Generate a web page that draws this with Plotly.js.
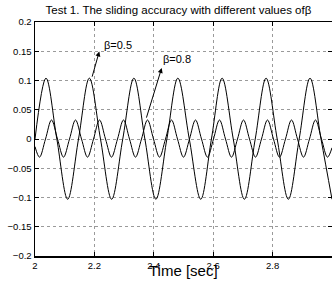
<!DOCTYPE html>
<html>
<head>
<meta charset="utf-8">
<script src="https://cdn.plot.ly/plotly-3.0.1.min.js"></script>
<style>html,body{margin:0;padding:0;background:#fff;}#chart{width:332px;height:286px;}</style>
</head>
<body>
<div id="chart"></div>
<script>
// β = 0.5 : peaks, zero crossings and troughs
var timeB05 = [2.000, 2.037, 2.0735, 2.110, 2.1465, 2.183, 2.2205, 2.258, 2.2955, 2.333, 2.370, 2.407, 2.444, 2.481, 2.5195, 2.558, 2.594, 2.630, 2.6675, 2.705, 2.7415, 2.778, 2.8155, 2.853, 2.8895, 2.926, 2.963, 3.000];
var valB05  = [0.000, 0.104, 0.000, -0.103, 0.000, 0.104, 0.000, -0.103, 0.000, 0.104, 0.000, -0.103, 0.000, 0.104, 0.000, -0.103, 0.000, 0.104, 0.000, -0.103, 0.000, 0.104, 0.000, -0.103, 0.000, 0.104, 0.000, -0.103];

// β = 0.8
var timeB08 = [2.000, 2.0152, 2.0354, 2.0556, 2.0758, 2.0960, 2.1162, 2.1364, 2.1566, 2.1768, 2.1970, 2.2172, 2.2374, 2.2576, 2.2778, 2.2980, 2.3182, 2.3384, 2.3586, 2.3788, 2.3990, 2.4192, 2.4394, 2.4596, 2.4798, 2.5000, 2.5202, 2.5404, 2.5606, 2.5808, 2.6010, 2.6212, 2.6414, 2.6616, 2.6818, 2.7020, 2.7222, 2.7424, 2.7626, 2.7828, 2.8030, 2.8232, 2.8434, 2.8636, 2.8838, 2.9040, 2.9242, 2.9444, 2.9646, 2.9848, 3.000];
var valB08  = [-0.013, -0.031, 0, 0.0325, 0, -0.031, 0, 0.0325, 0, -0.031, 0, 0.0325, 0, -0.031, 0, 0.0325, 0, -0.031, 0, 0.0325, 0, -0.031, 0, 0.0325, 0, -0.031, 0, 0.0325, 0, -0.031, 0, 0.0325, 0, -0.031, 0, 0.0325, 0, -0.031, 0, 0.0325, 0, -0.031, 0, 0.0325, 0, -0.031, 0, 0.0325, 0, -0.031, -0.015];

var xTickVals = [2, 2.2, 2.4, 2.6, 2.8, 3];
var xTickText = ['2', '2.2', '2.4', '2.6', '2.8', '3'];
var yTickVals = [-0.2, -0.15, -0.1, -0.05, 0, 0.05, 0.1, 0.15, 0.2];
var yTickText = ['\u22120.2', '\u22120.15', '\u22120.1', '\u22120.05', '0', '0.05', '0.1', '0.15', '0.2'];

var titleText = 'Test 1. The sliding accuracy with different values of\u03b2';
var xTitleText = 'Time [sec]';
var labels = ['\u03b2=0.5', '\u03b2=0.8'];

var font = 'Liberation Sans, Arial, sans-serif';

var traces = [
  {x: timeB05, y: valB05, name: labels[0], mode: 'lines', line: {color: '#000', width: 1, shape: 'spline', smoothing: 1}, hoverinfo: 'skip'},
  {x: timeB08, y: valB08, name: labels[1], mode: 'lines', line: {color: '#000', width: 1, shape: 'spline', smoothing: 1}, hoverinfo: 'skip'}
];

var axisCommon = {
  ticks: 'inside', ticklen: 4, tickwidth: 1, tickcolor: '#000',
  showline: true, linecolor: '#000', linewidth: 1.5, mirror: 'ticks',
  showgrid: true, gridcolor: '#9a9a9a', gridwidth: 1, griddash: 'dot',
  zeroline: false, tickfont: {family: font, size: 9.5, color: '#000'},
  tickmode: 'array'
};

var layout = {
  width: 332, height: 286,
  margin: {l: 35, r: 0, t: 22, b: 30},
  paper_bgcolor: '#fff', plot_bgcolor: '#fff',
  showlegend: false,
  font: {family: font, color: '#000'},
  title: {text: titleText, font: {family: font, size: 11.5, color: '#000'}, xref: 'paper', x: 0.483, xanchor: 'center', yref: 'container', y: 0.965, yanchor: 'middle'},
  xaxis: Object.assign({}, axisCommon, {range: [2, 3], tickvals: xTickVals, ticktext: xTickText}),
  yaxis: Object.assign({}, axisCommon, {range: [-0.2, 0.2], tickvals: yTickVals, ticktext: yTickText}),
  annotations: [
    {x: 2.2165, y: 0.1497, ax: 2.191, ay: 0.104, axref: 'x', ayref: 'y', xref: 'x', yref: 'y', text: '', showarrow: true, arrowhead: 2, arrowsize: 1, arrowwidth: 1, arrowcolor: '#000'},
    {x: 2.4266, y: 0.1215, ax: 2.3737, ay: 0.034, axref: 'x', ayref: 'y', xref: 'x', yref: 'y', text: '', showarrow: true, arrowhead: 2, arrowsize: 1, arrowwidth: 1, arrowcolor: '#000'},
    {x: 2.2256, y: 0.161, xref: 'x', yref: 'y', text: labels[0], showarrow: false, xanchor: 'left', yanchor: 'middle', font: {family: font, size: 11, color: '#000'}},
    {x: 2.4232, y: 0.137, xref: 'x', yref: 'y', text: labels[1], showarrow: false, xanchor: 'left', yanchor: 'middle', font: {family: font, size: 11, color: '#000'}},
    {x: 0.5, y: 0, xref: 'paper', yref: 'paper', yshift: -25, text: xTitleText, showarrow: false, xanchor: 'center', yanchor: 'bottom', font: {family: font, size: 15, color: '#000'}}
  ]
};

Plotly.newPlot('chart', traces, layout, {staticPlot: true, displayModeBar: false});
</script>
</body>
</html>
